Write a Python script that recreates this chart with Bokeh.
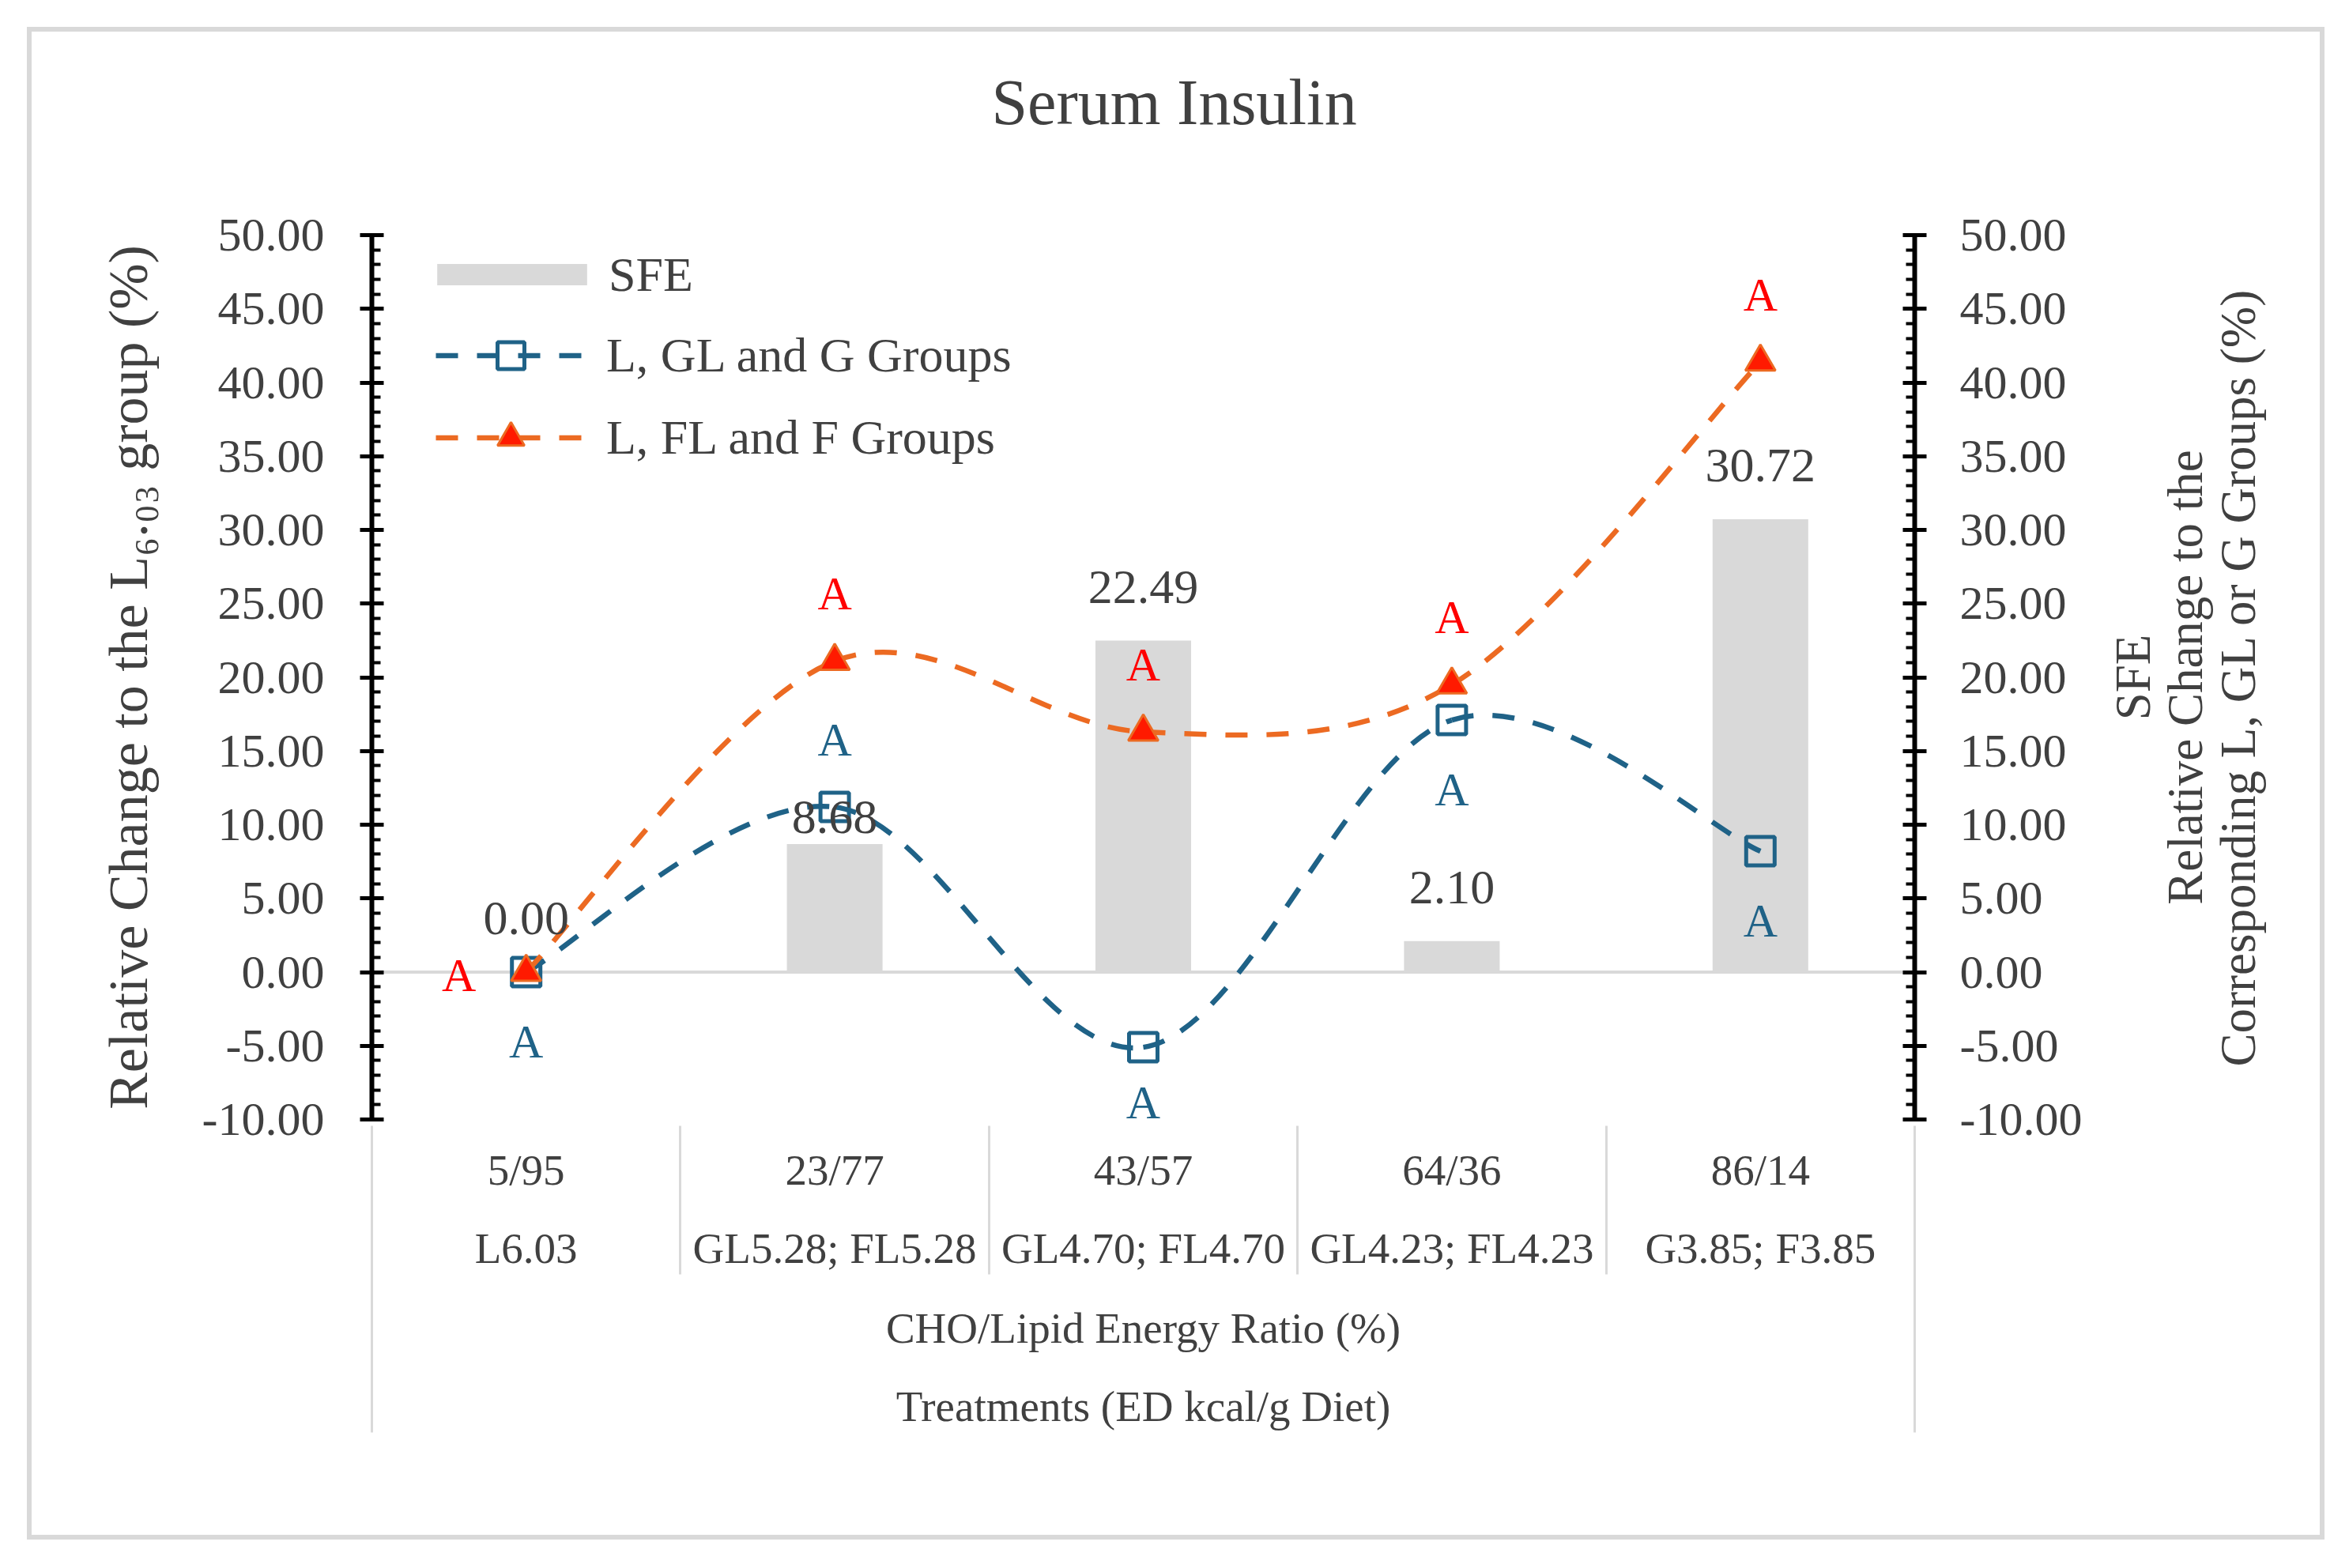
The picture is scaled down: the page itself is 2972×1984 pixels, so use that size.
from bokeh.plotting import figure
from bokeh.layouts import row
from bokeh.models import (ColumnDataSource, Range1d, LinearAxis, FixedTicker,
                          SingleIntervalTicker, NumeralTickFormatter, Span,
                          Legend, LegendItem, LabelSet)
from bokeh.core.properties import value
from bokeh.embed import file_html
from bokeh.resources import INLINE

# data
ratios = ["5/95", "23/77", "43/57", "64/36", "86/14"]
treatments = ["L6.03", "GL5.28; FL5.28", "GL4.70; FL4.70", "GL4.23; FL4.23", "G3.85; F3.85"]
sfe = [0.00, 8.68, 22.49, 2.10, 30.72]
lgg = [0.00, 11.2, -5.1, 17.1, 8.2]      # L, GL and G Groups
lff = [0.00, 21.1, 16.3, 19.5, 41.4]     # L, FL and F Groups
lgg_letters = ["A", "A", "A", "A", "A"]
lff_letters = ["A", "A", "A", "A", "A"]

# where the letters sit relative to their point (style only)
lgg_side = ["below", "above", "under", "below", "below"]
lff_side = ["left", "above", "above", "above", "above"]
bar_label_lift = [68, 34, 68, 68, 68]

FONT = "Liberation Serif"
TXT = "#404040"
BLUE = "#1F6287"
ORANGE = "#EC6A22"
GRAY = "#D9D9D9"

TOP, BOTTOM = 257, 526

xs = [i + 0.5 for i in range(len(ratios))]

p = figure(width=2620, height=1902, x_range=Range1d(0, len(ratios)),
           y_range=Range1d(-10, 50), x_axis_location=None,
           toolbar_location=None, output_backend="svg",
           min_border_left=430, min_border_right=238,
           min_border_top=TOP, min_border_bottom=BOTTOM)
p.grid.visible = False
p.outline_line_color = None

p.title.text = "Serum Insulin"
p.title.align = "left"
p.title.offset = 784
p.title.standoff = 0
p.title.text_font = FONT
p.title.text_font_size = "82px"
p.title.text_font_style = "normal"
p.title.text_color = TXT

# empty strip between the title and the plot area
gap = LinearAxis(ticker=FixedTicker(ticks=[]), axis_line_color=None,
                 major_tick_out=0, major_tick_in=0, axis_label=" ",
                 axis_label_text_font_size="40px", axis_label_standoff=76)
p.add_layout(gap, "above")


def style_y(ax):
    ax.ticker = SingleIntervalTicker(interval=5, num_minor_ticks=5)
    ax.formatter = NumeralTickFormatter(format="0.00")
    ax.axis_line_width = 6
    ax.major_tick_in = 15
    ax.major_tick_out = 15
    ax.major_tick_line_width = 5
    ax.minor_tick_in = 11
    ax.minor_tick_out = 0
    ax.minor_tick_line_width = 4
    ax.major_label_text_font = FONT
    ax.major_label_text_font_size = "60px"
    ax.major_label_text_color = TXT
    ax.axis_label_text_font = FONT
    ax.axis_label_text_font_style = "normal"
    ax.axis_label_text_color = TXT


ly = p.yaxis[0]
style_y(ly)
ly.major_label_standoff = 45
ly.axis_label = "Relative Change to the L\u2086.\u2080\u2083 group (%)"
ly.axis_label_text_font_size = "70px"
ly.axis_label_standoff = 52

ry = LinearAxis()
style_y(ry)
ry.major_label_standoff = 42
p.add_layout(ry, "right")


# x side: two label rows, then two title rows; the table's separator
# lines are minor ticks pointing back up toward the frame
def style_x(ax):
    ax.axis_line_color = None
    ax.major_tick_in = 0
    ax.major_tick_out = 0
    ax.minor_tick_in = 0
    ax.minor_tick_out = 0
    ax.minor_tick_line_color = GRAY
    ax.minor_tick_line_width = 3
    ax.major_label_text_font = FONT
    ax.major_label_text_font_size = "55px"
    ax.major_label_text_color = TXT
    ax.axis_label_text_font = FONT
    ax.axis_label_text_font_size = "55px"
    ax.axis_label_text_font_style = "normal"
    ax.axis_label_text_color = TXT


bounds = list(range(len(ratios) + 1))

ax1 = LinearAxis(ticker=FixedTicker(ticks=xs, minor_ticks=[]),
                 major_label_overrides={x: r for x, r in zip(xs, ratios)})
style_x(ax1)
ax1.major_label_standoff = 33
p.add_layout(ax1, "below")

ax2 = LinearAxis(ticker=FixedTicker(ticks=xs, minor_ticks=[]),
                 major_label_overrides={x: t for x, t in zip(xs, treatments)})
style_x(ax2)
ax2.major_label_standoff = 35
p.add_layout(ax2, "below")

ax3 = LinearAxis(ticker=FixedTicker(ticks=[], minor_ticks=bounds))
style_x(ax3)
ax3.minor_tick_in = 188
ax3.axis_label = "CHO/Lipid Energy Ratio (%)"
ax3.axis_label_standoff = 37
p.add_layout(ax3, "below")

ax4 = LinearAxis(ticker=FixedTicker(ticks=[], minor_ticks=[]))
style_x(ax4)
ax4.axis_label = "Treatments (ED kcal/g Diet)"
ax4.axis_label_standoff = 35
p.add_layout(ax4, "below")

ax5 = LinearAxis(ticker=FixedTicker(ticks=[], minor_ticks=[bounds[0], bounds[-1]]))
style_x(ax5)
ax5.minor_tick_in = 375
p.add_layout(ax5, "below")

p.add_layout(Span(location=0, dimension="width", line_color=GRAY,
                  line_width=4, level="underlay"))

bars = p.vbar(x=xs, top=sfe, bottom=0, width=0.31, fill_color=GRAY, line_color=None)


def smooth(x, y):
    # Catmull-Rom style bezier segments through the data points
    n = len(x)
    c = {k: [] for k in ("x0", "y0", "x1", "y1", "cx0", "cy0", "cx1", "cy1")}
    for i in range(n - 1):
        a = max(i - 1, 0)
        d = min(i + 2, n - 1)
        c["x0"].append(x[i]); c["y0"].append(y[i])
        c["x1"].append(x[i + 1]); c["y1"].append(y[i + 1])
        c["cx0"].append(x[i] + (x[i + 1] - x[a]) / 6)
        c["cy0"].append(y[i] + (y[i + 1] - y[a]) / 6)
        c["cx1"].append(x[i + 1] - (x[d] - x[i]) / 6)
        c["cy1"].append(y[i + 1] - (y[d] - y[i]) / 6)
    return ColumnDataSource(c)


blue_curve = p.bezier(x0="x0", y0="y0", x1="x1", y1="y1", cx0="cx0", cy0="cy0",
                      cx1="cx1", cy1="cy1", source=smooth(xs, lgg),
                      line_color=BLUE, line_width=6.5, line_dash="28 24")
blue_pts = p.scatter(xs, lgg, marker="square", size=36, fill_color=None,
                     line_color=BLUE, line_width=5)
orange_curve = p.bezier(x0="x0", y0="y0", x1="x1", y1="y1", cx0="cx0", cy0="cy0",
                        cx1="cx1", cy1="cy1", source=smooth(xs, lff),
                        line_color=ORANGE, line_width=6.5, line_dash="28 24")
orange_pts = p.scatter(xs, lff, marker="triangle", size=38, fill_color="#FF1A00",
                       line_color=ORANGE, line_width=3)

# LabelSet offsets: positive y goes up; "under" stays inside the plot area
OFF = {"above": (0, 85), "below": (0, -88), "under": (0, -70), "left": (-85, -4)}


def letters(y, t, side, color):
    src = ColumnDataSource(dict(x=xs, y=y, t=t,
                                dx=[OFF[s][0] for s in side],
                                dy=[OFF[s][1] for s in side]))
    p.add_layout(LabelSet(x="x", y="y", text="t", x_offset="dx", y_offset="dy",
                          source=src, text_align="center", text_baseline="middle",
                          text_font=value(FONT), text_font_size="60px",
                          text_color=color))


letters(lgg, lgg_letters, lgg_side, BLUE)
letters(lff, lff_letters, lff_side, "#FF0000")

p.text(x=xs, y=sfe, text=[f"{v:.2f}" for v in sfe],
       y_offset=[-v for v in bar_label_lift], text_align="center",
       text_baseline="middle", text_font=value(FONT), text_font_size="62px",
       text_color=TXT)

leg1 = Legend(items=[LegendItem(label="SFE", renderers=[bars])],
              location=(59, 1033), glyph_width=237, glyph_height=34,
              label_standoff=4, label_height=72)
leg2 = Legend(items=[LegendItem(label="L, GL and G Groups", renderers=[blue_curve, blue_pts]),
                     LegendItem(label="L, FL and F Groups", renderers=[orange_curve, orange_pts])],
              location=(81, 820), glyph_width=190, glyph_height=85, spacing=19,
              label_standoff=26, label_height=60)
for lg in (leg1, leg2):
    lg.padding = 0
    lg.margin = 0
    lg.border_line_color = None
    lg.background_fill_alpha = 0
    lg.label_text_font = FONT
    lg.label_text_font_size = "62px"
    lg.label_text_color = TXT
    p.add_layout(lg)

# the right-hand title reads bottom to top, so it is the left axis title
# of a narrow empty panel placed beside the chart
side = figure(width=275, height=1902, x_range=Range1d(0, 1), y_range=Range1d(-10, 50),
              x_axis_location=None, toolbar_location=None, output_backend="svg",
              min_border_left=206, min_border_right=0,
              min_border_top=TOP, min_border_bottom=BOTTOM)
side.grid.visible = False
side.outline_line_color = None
sy = side.yaxis[0]
sy.ticker = FixedTicker(ticks=[])
sy.axis_line_color = None
sy.major_tick_out = 0
sy.major_tick_in = 0
sy.axis_label = "SFE\nRelative Change to the\nCorresponding L, GL or G Groups (%)"
sy.axis_label_standoff = 0
sy.axis_label_text_font = FONT
sy.axis_label_text_font_size = "63px"
sy.axis_label_text_font_style = "normal"
sy.axis_label_text_line_height = 0.95
sy.axis_label_text_color = TXT

page = row(p, side)
page.styles = {"margin-left": "40px", "margin-top": "40px",
               "outline": "6px solid #D9D9D9"}

open("out.html", "w").write(file_html(page, INLINE))
